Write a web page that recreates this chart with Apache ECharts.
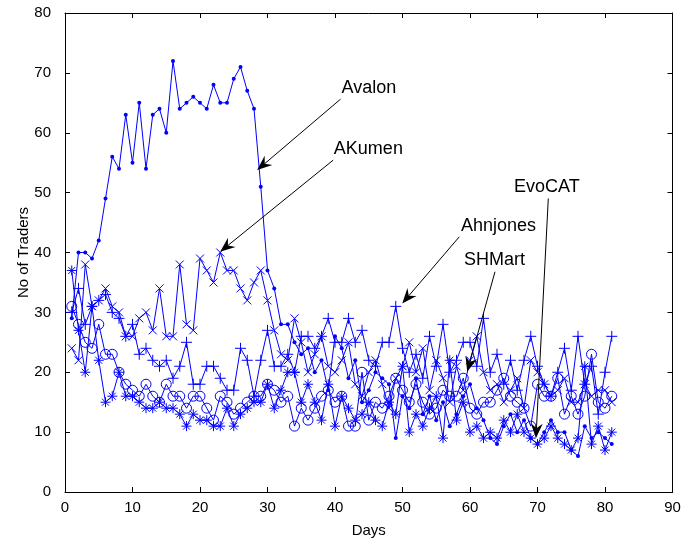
<!DOCTYPE html>
<html><head><meta charset="utf-8">
<script src="https://cdn.jsdelivr.net/npm/echarts@6/dist/echarts.min.js"></script>
<style>html,body{margin:0;padding:0;background:#fff}#c{width:684px;height:546px}</style>
</head><body><div id="c"></div>
<script>
const days = [1,2,3,4,5,6,7,8,9,10,11,12,13,14,15,16,17,18,19,20,21,22,23,24,25,26,27,28,29,30,31,32,33,34,35,36,37,38,39,40,41,42,43,44,45,46,47,48,49,50,51,52,53,54,55,56,57,58,59,60,61,62,63,64,65,66,67,68,69,70,71,72,73,74,75,76,77,78,79,80,81];
const avalon = [29,40,40,39,42,49,56,54,63,55, 65,54,63,64,60,72,64,65,66,65, 64,68,65,65,69,71,67,64,51,37, 34,28,28,25,23,24,20,22,17,26, 24,19,22,15,17,20,19,18,9,16, 14,19,13,16,12,15,11,13,16,18, 14,12,9,8,11,13,10,12,9,8, 10,12,10,10,7,6,11,9,10,9,8];
const akumen = [24,22,38,31,32,34,31,30,26,26, 29,30,27,34,26,26,38,28,27,39, 37,35,40,37,37,34,32,35,37,32, 27,23,22,29,25,20,23,26,21,20, 22,25,18,16,20,22,18,14,19,21, 25,20,24,17,22,19,15,21,17,22, 26,20,17,18,15,17,19,14,22,20, 18,16,17,19,15,15,18,16,17,17,15];
const ahnjones = [30,34,28,31,32,33,30,29,26,28, 23,24,22,21,22,19,21,25,18,18, 21,21,19,17,17,24,22,16,22,27, 21,21,23,20,26,26,24,26,29,25, 25,29,25,27,22,21,25,25,31,24, 20,23,19,26,21,28,20,22,25,25, 21,29,20,23,18,22,17,22,26,21, 18,16,20,24,17,26,18,21,13,20,26];
const shmart = [31,28,25,24,28,23,23,20,18,17, 16,18,16,15,18,16,16,14,16,16, 14,12,16,15,13,14,15,16,16,18, 17,15,16,11,14,12,14,16,17,15, 16,11,11,20,12,15,14,16,19,17, 15,18,15,13,14,17,16,16,19,14, 13,15,15,17,19,16,15,14,11,18, 16,16,19,13,16,13,16,23,15,14,16];
const evocat = [37,27,20,31,22,15,16,20,16,16, 15,14,14,15,14,14,13,11,13,12, 12,11,11,14,11,13,14,15,15,18, 14,17,20,20,15,18,15,12,18,11, 16,14,12,13,15,12,11,15,13,21, 10,13,11,14,16,9,22,12,15,10, 11,9,10,9,12,10,13,10,9,8, 9,11,9,8,7,9,21,8,11,7,10];
const xTicks = [0,10,20,30,40,50,60,70,80,90];
const yTicks = [0,10,20,30,40,50,60,70,80];
const annotations = [
  {text:'Avalon',   at:[40.97,66.44], from:[40.82,65.61], to:[28.46,53.76]},
  {text:'AKumen',   at:[39.83,56.26], from:[39.73,55.43], to:[22.98,40.12]},
  {text:'Ahnjones', at:[58.66,43.36], from:[58.41,42.62], to:[49.96,31.50]},
  {text:'SHMart',   at:[59.10,37.61], from:[63.70,36.78], to:[59.59,20.08]},
  {text:'EvoCAT',   at:[66.51,49.87], from:[71.60,49.03], to:[69.77,8.96]}
];

const BLUE = '#0000ff';
const FONT = 'Liberation Sans, Arial, Helvetica, sans-serif';
const chart = echarts.init(document.getElementById('c'), null, {renderer:'canvas'});
function mk(name, arr, symbol, size, filled){
  return {
    name, type:'line', data: days.map((d,i)=>[d, arr[i]]),
    symbol, symbolSize:size, showAllSymbol:true, animation:false,
    lineStyle:{color:BLUE, width:1},
    itemStyle:{color: filled ? BLUE : 'rgba(0,0,0,0)', borderColor:BLUE, borderWidth: filled?0:1},
    emphasis:{disabled:true}, silent:true
  };
}
const axisCommon = {
  type:'value', splitLine:{show:false},
  axisLine:{show:true, onZero:false, lineStyle:{color:'#000', width:1}},
  axisTick:{show:true, inside:true, length:5, lineStyle:{color:'#000', width:1}},
};
const option = {
  animation:false,
  backgroundColor:'#fff',
  grid:{left:65, right:11.5, top:13, bottom:54, containLabel:false},
  xAxis:[
    Object.assign({}, axisCommon, {min:xTicks[0], max:xTicks[xTicks.length-1], interval:10, position:'bottom',
      axisLabel:{color:'#000', fontSize:15, fontFamily:FONT, margin:8},
      name:'Days', nameLocation:'middle', nameGap:31, nameMoveOverlap:false,
      nameTextStyle:{color:'#000', fontSize:15, fontFamily:FONT}}),
    Object.assign({}, axisCommon, {min:xTicks[0], max:xTicks[xTicks.length-1], interval:10, position:'top', axisLabel:{show:false}})
  ],
  yAxis:[
    Object.assign({}, axisCommon, {min:yTicks[0], max:yTicks[yTicks.length-1], interval:10, position:'left',
      axisLabel:{color:'#000', fontSize:15, fontFamily:FONT, margin:14},
      name:'No of Traders', nameLocation:'middle', nameGap:34, nameMoveOverlap:false,
      nameTextStyle:{color:'#000', fontSize:15, fontFamily:FONT}}),
    Object.assign({}, axisCommon, {min:yTicks[0], max:yTicks[yTicks.length-1], interval:10, position:'right', axisLabel:{show:false}})
  ],
  series:[
    mk('Avalon', avalon, 'circle', 4, true),
    mk('AKumen', akumen, 'path://M0,0L10,10M0,10L10,0', 8, false),
    mk('Ahnjones', ahnjones, 'path://M0,5L10,5M5,0L5,10', 11, false),
    mk('SHMart', shmart, 'circle', 10, false),
    mk('EvoCAT', evocat, 'path://M0,5L10,5M5,0L5,10M1.5,1.5L8.5,8.5M1.5,8.5L8.5,1.5', 10, false)
  ]
};
chart.setOption(option);

const g = [];
annotations.forEach(a=>{
  const p0 = chart.convertToPixel({gridIndex:0}, a.from);
  const p1 = chart.convertToPixel({gridIndex:0}, a.to);
  const t = chart.convertToPixel({gridIndex:0}, a.at);
  const dx = p0[0]-p1[0], dy = p0[1]-p1[1];
  const L = Math.hypot(dx,dy); const ux = dx/L, uy = dy/L; const nx = -uy, ny = ux;
  const HL = 15, HW = 6, NOTCH = 10;
  g.push({type:'line', silent:true, z:100, shape:{x1:p0[0], y1:p0[1], x2:p1[0]+ux*NOTCH, y2:p1[1]+uy*NOTCH}, style:{stroke:'#000', lineWidth:1}});
  g.push({type:'polygon', silent:true, z:100, shape:{points:[
    [p1[0],p1[1]],
    [p1[0]+ux*HL+nx*HW, p1[1]+uy*HL+ny*HW],
    [p1[0]+ux*NOTCH, p1[1]+uy*NOTCH],
    [p1[0]+ux*HL-nx*HW, p1[1]+uy*HL-ny*HW]
  ]}, style:{fill:'#000'}});
  g.push({type:'text', silent:true, z:100, x:t[0], y:t[1]-6.3, style:{text:a.text, fontSize:18, fontFamily:FONT, fill:'#000', align:'left', verticalAlign:'middle'}});
});
chart.setOption({graphic:g});
</script>
</body></html>
